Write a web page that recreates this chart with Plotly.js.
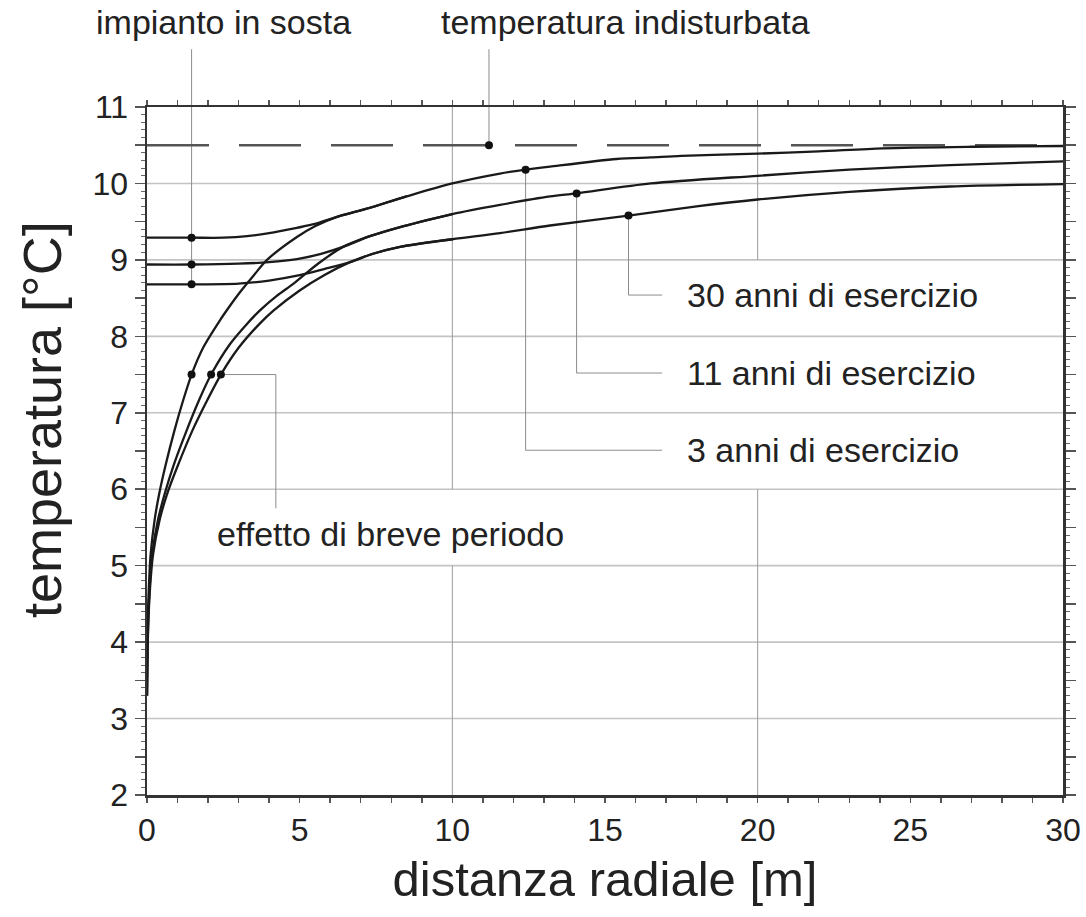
<!DOCTYPE html>
<html>
<head>
<meta charset="utf-8">
<script src="https://cdn.plot.ly/plotly-3.0.1.min.js"></script>
<style>html,body{margin:0;padding:0;background:#fff;}#chart{width:1086px;height:917px;}</style>
</head>
<body>
<div id="chart"></div>
<script>
// ---------- data ----------
// operating profiles (3, 11, 30 years)
const op3x  = [0, 0.015, 0.05, 0.12, 0.25, 0.4, 0.6, 0.9, 1.19, 1.46, 1.85, 2.39, 2.7, 3.05, 3.5, 3.93, 4.91, 5.5, 6.2, 7.2, 8.5, 10, 11.56, 12.4, 13.2, 15.38, 16.5, 17.5, 20, 22, 24.1, 27, 30];
const op3y  = [3.3, 4.0, 4.6, 5.15, 5.6, 5.94, 6.3, 6.77, 7.17, 7.5, 7.86, 8.21, 8.39, 8.58, 8.8, 9.0, 9.30, 9.44, 9.56, 9.67, 9.83, 10.0, 10.13, 10.18, 10.22, 10.32, 10.34, 10.36, 10.39, 10.42, 10.46, 10.48, 10.49];
const op11x = [0, 0.022, 0.072, 0.17, 0.36, 0.58, 0.86, 1.3, 1.71, 2.1, 2.72, 3.2, 3.7, 4.25, 4.8, 5.6, 6.42, 7.3, 8.29, 10, 11.56, 13.2, 14.07, 16.5, 20, 23, 26.3, 30];
const op11y = [3.3, 4.0, 4.6, 5.15, 5.6, 5.94, 6.3, 6.77, 7.17, 7.5, 7.9, 8.13, 8.34, 8.53, 8.69, 8.95, 9.17, 9.31, 9.43, 9.6, 9.72, 9.83, 9.87, 10.0, 10.10, 10.18, 10.24, 10.29];
const op30x = [0, 0.025, 0.083, 0.2, 0.415, 0.66, 1.0, 1.49, 1.98, 2.42, 3.0, 3.7, 4.15, 5.0, 5.8, 6.65, 7.4, 8.29, 10, 11.56, 13.2, 15.77, 18, 20, 23, 26.3, 30];
const op30y = [3.3, 4.0, 4.6, 5.15, 5.6, 5.94, 6.3, 6.77, 7.17, 7.5, 7.85, 8.17, 8.34, 8.6, 8.8, 8.97, 9.08, 9.17, 9.27, 9.35, 9.45, 9.58, 9.70, 9.79, 9.89, 9.96, 9.99];
// standstill profiles (impianto in sosta)
const st3x  = [0, 1.46, 2.5, 3.28, 4.0, 4.91, 5.5, 6.2, 7.2, 8.5];
const st3y  = [9.29, 9.29, 9.29, 9.31, 9.35, 9.42, 9.47, 9.56, 9.67, 9.83];
const st11x = [0, 1.46, 3.0, 4.0, 4.91, 5.7, 6.42, 7.3, 8.29, 10];
const st11y = [8.94, 8.94, 8.95, 8.97, 9.01, 9.08, 9.17, 9.31, 9.43, 9.6];
const st30x = [0, 1.46, 3.0, 4.0, 5.0, 5.8, 6.65, 7.4, 8.29, 10];
const st30y = [8.68, 8.68, 8.69, 8.73, 8.80, 8.88, 8.97, 9.08, 9.17, 9.27];
// undisturbed ground temperature
const undisturbedT = 10.5;
const xExtent = [0, 30];
// marked points
const standDotX = [1.46, 1.46, 1.46];
const standDotY = [9.29, 8.94, 8.68];
const shortDotX = [1.46, 2.1, 2.42];
const shortDotY = [7.5, 7.5, 7.5];
const yearDotX  = [12.4, 14.07, 15.77];
const yearDotY  = [10.18, 9.87, 9.58];
const undistDotX = [11.2];
const undistDotY = [10.5];
// labels
const yearLabels = ['3 anni di esercizio', '11 anni di esercizio', '30 anni di esercizio'];
const labelStand = 'impianto in sosta';
const labelUndist = 'temperatura indisturbata';
const labelShort = 'effetto di breve periodo';
const xTitle = 'distanza radiale [m]';
const yTitle = 'temperatura [°C]';
// ticks
const xTickVals = [0, 5, 10, 15, 20, 25, 30];
const xTickText = ['0', '5', '10', '15', '20', '25', '30'];
const yTickVals = [2, 2.5, 3, 3.5, 4, 4.5, 5, 5.5, 6, 6.5, 7, 7.5, 8, 8.5, 9, 9.5, 10, 10.5, 11];
const yTickText = ['2', '', '3', '', '4', '', '5', '', '6', '', '7', '', '8', '', '9', '', '10', '', '11'];
const yGridVals = [3, 4, 5, 6, 7, 8, 9, 10];

// ---------- layout ----------
const FONT = 'Liberation Sans, Arial, Helvetica, sans-serif';
const curve = {color: '#1a1a1a', width: 2.3, shape: 'spline', smoothing: 0.8};
const dot = {color: '#111', size: 8};

const traces = [
  {x: xExtent, y: [undisturbedT, undisturbedT], mode: 'lines', line: {color: '#555', width: 2.5, dash: '62px,30px'}},
  {x: op3x, y: op3y, mode: 'lines', line: curve},
  {x: op11x, y: op11y, mode: 'lines', line: curve},
  {x: op30x, y: op30y, mode: 'lines', line: curve},
  {x: st3x, y: st3y, mode: 'lines', line: curve},
  {x: st11x, y: st11y, mode: 'lines', line: curve},
  {x: st30x, y: st30y, mode: 'lines', line: curve},
  {x: standDotX.concat(shortDotX, yearDotX, undistDotX),
   y: standDotY.concat(shortDotY, yearDotY, undistDotY),
   mode: 'markers', marker: dot, cliponaxis: false}
];

const gridCol = '#c4c4c4';
const vgridCol = '#9a9a9a';
const leadCol = '#8c8c8c';
const shapes = [];
yGridVals.forEach(v => shapes.push({type: 'line', layer: 'below', xref: 'x', yref: 'y', x0: 0, x1: 30, y0: v, y1: v, line: {color: gridCol, width: 1.6}}));
// vertical grid segments (interrupted behind labels)
[[10, 2, 5], [10, 6, 11], [20, 2, 6], [20, 9, 11]].forEach(s => shapes.push({type: 'line', layer: 'below', xref: 'x', yref: 'y', x0: s[0], x1: s[0], y0: s[1], y1: s[2], line: {color: vgridCol, width: 1}}));

// leader: impianto in sosta
const leadTop = 1.084;
shapes.push({type: 'line', layer: 'below', xref: 'x', yref: 'y', x0: standDotX[0], x1: standDotX[0], y0: Math.min(...standDotY), y1: 11, line: {color: leadCol, width: 1}});
shapes.push({type: 'line', layer: 'below', xref: 'x', yref: 'paper', x0: standDotX[0], x1: standDotX[0], y0: 1, y1: leadTop, line: {color: leadCol, width: 1}});
// leader: temperatura indisturbata
shapes.push({type: 'line', layer: 'below', xref: 'x', yref: 'y', x0: undistDotX[0], x1: undistDotX[0], y0: undistDotY[0], y1: 11, line: {color: leadCol, width: 1}});
shapes.push({type: 'line', layer: 'below', xref: 'x', yref: 'paper', x0: undistDotX[0], x1: undistDotX[0], y0: 1, y1: leadTop, line: {color: leadCol, width: 1}});
// leaders: years
const yearLabelY = [6.51, 7.52, 8.54];
const yearLeadEnd = 16.87;
yearDotX.forEach((xv, i) => {
  shapes.push({type: 'line', layer: 'below', xref: 'x', yref: 'y', x0: xv, x1: xv, y0: yearDotY[i], y1: yearLabelY[i], line: {color: leadCol, width: 1}});
  shapes.push({type: 'line', layer: 'below', xref: 'x', yref: 'y', x0: xv, x1: yearLeadEnd, y0: yearLabelY[i], y1: yearLabelY[i], line: {color: leadCol, width: 1}});
});
// leader: effetto di breve periodo
const shortCornerX = 4.22, shortBottomY = 5.75;
shapes.push({type: 'line', layer: 'below', xref: 'x', yref: 'y', x0: Math.max(...shortDotX), x1: shortCornerX, y0: shortDotY[0], y1: shortDotY[0], line: {color: leadCol, width: 1}});
shapes.push({type: 'line', layer: 'below', xref: 'x', yref: 'y', x0: shortCornerX, x1: shortCornerX, y0: shortDotY[0], y1: shortBottomY, line: {color: leadCol, width: 1}});

const annFont = {family: FONT, size: 34, color: '#222'};
const annotations = [
  {xref: 'x', yref: 'paper', x: 2.5, y: 1.124, text: labelStand, showarrow: false, xanchor: 'center', yanchor: 'middle', font: annFont},
  {xref: 'x', yref: 'paper', x: 15.66, y: 1.124, text: labelUndist, showarrow: false, xanchor: 'center', yanchor: 'middle', font: annFont},
  {xref: 'x', yref: 'y', x: 7.96, y: 5.42, text: labelShort, showarrow: false, xanchor: 'center', yanchor: 'middle', font: annFont},
  // y-axis title (placed as annotation to match the off-centre position of the original)
  {xref: 'paper', yref: 'paper', x: -0.1146, y: 0.545, text: yTitle, textangle: -90, showarrow: false, xanchor: 'center', yanchor: 'middle', font: {family: FONT, size: 54, color: '#222'}}
];
yearLabels.forEach((t, i) => annotations.push({xref: 'x', yref: 'y', x: 17.62, y: yearLabelY[i], text: t, showarrow: false, xanchor: 'left', yanchor: 'middle', font: annFont}));

const layout = {
  width: 1086, height: 917,
  margin: {l: 147, r: 23, t: 107, b: 122, pad: 0},
  paper_bgcolor: '#fff', plot_bgcolor: '#fff',
  showlegend: false,
  font: {family: FONT, color: '#222'},
  xaxis: {
    range: [0, 30], tickmode: 'array', tickvals: xTickVals, ticktext: xTickText,
    ticks: 'outside', ticklen: 5, tickwidth: 1.5, tickcolor: '#555',
    minor: {dtick: 1, tick0: 0, ticks: 'outside', ticklen: 5, tickwidth: 1.5, tickcolor: '#555', showgrid: false},
    showline: true, linecolor: '#333', linewidth: 2.5, mirror: 'ticks',
    showgrid: false, zeroline: false,
    tickfont: {family: FONT, size: 32, color: '#222'},
    title: {text: xTitle, font: {family: FONT, size: 49, color: '#222'}, standoff: 15}
  },
  yaxis: {
    range: [2, 11], tickmode: 'array', tickvals: yTickVals, ticktext: yTickText,
    ticks: 'outside', ticklen: 10, tickwidth: 1.5, tickcolor: '#555',
    minor: {dtick: 0.1, tick0: 0, ticks: 'outside', ticklen: 4, tickwidth: 1, tickcolor: '#666', showgrid: false},
    showline: true, linecolor: '#333', linewidth: 2.5, mirror: 'ticks',
    showgrid: false, zeroline: false,
    tickfont: {family: FONT, size: 32, color: '#222'}
  },
  shapes: shapes,
  annotations: annotations
};

Plotly.newPlot('chart', traces, layout, {displayModeBar: false, staticPlot: true});
</script>
</body>
</html>
